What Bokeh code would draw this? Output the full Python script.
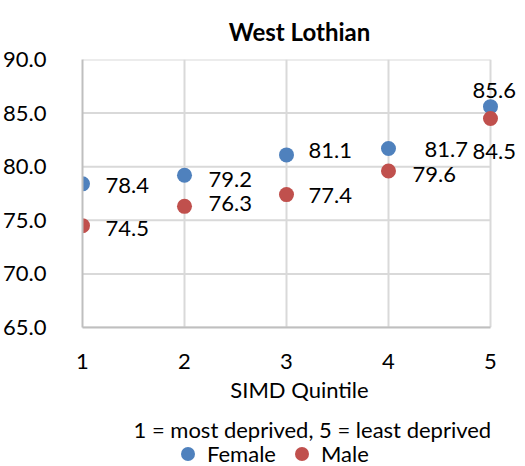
from bokeh.plotting import figure
from bokeh.layouts import column
from bokeh.models import (ColumnDataSource, Range1d, LabelSet, Label, Legend, LegendItem,
                          FixedTicker, NumeralTickFormatter)
from bokeh.core.properties import value
from bokeh.embed import file_html
from bokeh.resources import INLINE

# ---- data ----
quintiles = [1, 2, 3, 4, 5]
female = [78.4, 79.2, 81.1, 81.7, 85.6]
male = [74.5, 76.3, 77.4, 79.6, 84.5]
y_ticks = [65, 70, 75, 80, 85, 90]
series_names = ["Female", "Male"]
title_text = "West Lothian"
x_title = "SIMD Quintile"
sub_text = "1 = most deprived, 5 = least deprived"

# ---- style ----
FONT = "Lato"
BLUE = "#4F81BD"
RED = "#C0504D"
GRID = "#d9d9d9"
W = 517

# label offsets (pixels, y up); the last labels are moved as in the original
f_xoff = [23, 24, 22, 36, -18]
f_yoff = [-2, -4, 4, -1, 16]
m_xoff = [23, 24, 22, 24, -18]
m_yoff = [-3, 3, -1, -4, -33]

x_lo, x_hi = min(quintiles), max(quintiles)
X_PAD = 0.255           # room right of 5 for the labels

# ---- main chart ----
p = figure(width=W, height=407, output_backend="svg", toolbar_location=None,
           x_range=Range1d(x_lo, x_hi + X_PAD), y_range=Range1d(y_ticks[0], y_ticks[-1]),
           min_border_left=74, min_border_right=1, min_border_top=0, min_border_bottom=80)
p.outline_line_color = None

p.title.text = title_text
p.title.align = "center"
p.title.text_font = FONT
p.title.text_font_size = "24px"
p.title.text_font_style = "bold"
p.title.text_color = "black"
p.title.standoff = 28

p.xgrid.grid_line_color = GRID
p.xgrid.grid_line_width = 2
p.ygrid.grid_line_color = None
# horizontal grid lines only across the quintile span
p.segment(x0=[x_lo] * len(y_ticks), x1=[x_hi] * len(y_ticks), y0=y_ticks, y1=y_ticks,
          line_color=GRID, line_width=2)

p.xaxis.ticker = FixedTicker(ticks=quintiles)
p.xaxis.bounds = (x_lo, x_hi)
p.yaxis.ticker = FixedTicker(ticks=y_ticks)
p.yaxis.formatter = NumeralTickFormatter(format="0.0")
for ax in (p.xaxis, p.yaxis):
    ax.axis_line_color = "#bfbfbf"
    ax.axis_line_width = 2
    ax.major_tick_line_color = None
    ax.minor_tick_line_color = None
    ax.major_label_text_font = FONT
    ax.major_label_text_font_size = "22px"
    ax.major_label_text_color = "black"
p.yaxis.major_label_standoff = 30
p.xaxis.major_label_standoff = 20
p.xaxis.axis_label = x_title
p.xaxis.axis_label_text_font = FONT
p.xaxis.axis_label_text_font_size = "22px"
p.xaxis.axis_label_text_font_style = "normal"
p.xaxis.axis_label_text_color = "black"
p.xaxis.axis_label_standoff = 4

src_f = ColumnDataSource(dict(x=quintiles, y=female, t=[f"{v:.1f}" for v in female],
                              xo=f_xoff, yo=f_yoff))
src_m = ColumnDataSource(dict(x=quintiles, y=male, t=[f"{v:.1f}" for v in male],
                              xo=m_xoff, yo=m_yoff))

p.scatter("x", "y", source=src_f, size=15, color=BLUE, line_color=None)
p.scatter("x", "y", source=src_m, size=15, color=RED, line_color=None)

for src in (src_f, src_m):
    p.add_layout(LabelSet(x="x", y="y", text="t", source=src, x_offset="xo", y_offset="yo",
                          text_baseline="middle", text_font=value(FONT),
                          text_font_size="22px", text_color="black"))

# ---- subtitle + legend strip ----
bot = figure(width=W, height=66, output_backend="svg", toolbar_location=None,
             x_axis_type=None, y_axis_type=None, x_range=Range1d(0, 1), y_range=Range1d(0, 1),
             min_border=0, outline_line_color=None)
bot.grid.visible = False
bot.add_layout(Label(x=51, y=44, x_units="screen", y_units="screen", text=sub_text,
                     text_align="left", text_baseline="middle", text_font=FONT,
                     text_font_size="22px", text_color="black"))
# legend proxies: same series, lying outside this strip's visible ranges
lf = bot.scatter(x=quintiles, y=female, size=15, color=BLUE, line_color=None)
lm = bot.scatter(x=quintiles, y=male, size=15, color=RED, line_color=None)
legend = Legend(items=[LegendItem(label=series_names[0], renderers=[lf]),
                       LegendItem(label=series_names[1], renderers=[lm])],
                orientation="horizontal", location=(88, 2),
                label_text_font=FONT, label_text_font_size="22px", label_text_color="black",
                border_line_color=None, background_fill_alpha=0,
                margin=0, padding=0, spacing=8, glyph_width=35, glyph_height=35,
                label_height=20, label_standoff=2)
bot.add_layout(legend, "center")

layout = column(p, bot, spacing=0)
open("out.html", "w").write(file_html(layout, INLINE))
